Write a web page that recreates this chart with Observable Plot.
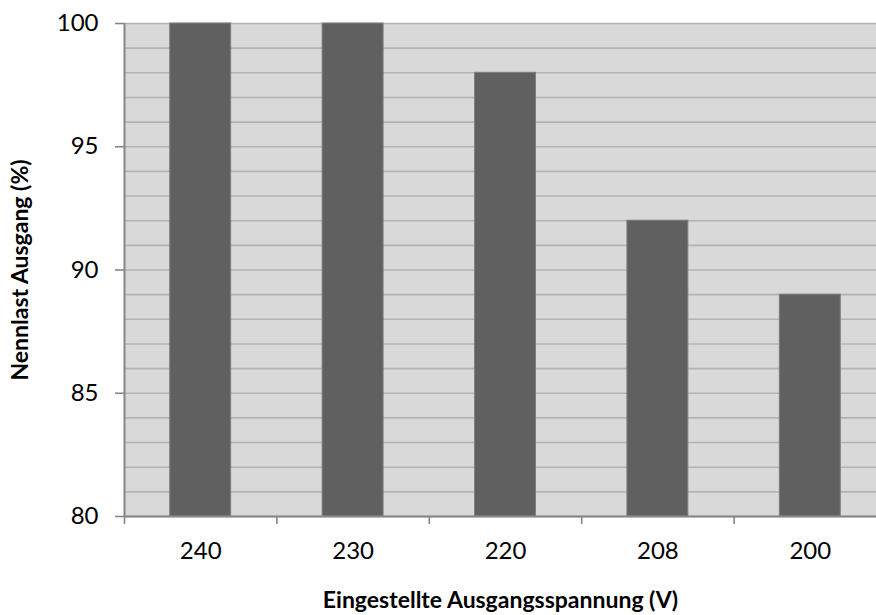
<!DOCTYPE html>
<html>
<head>
<meta charset="utf-8">
<script src="https://cdn.jsdelivr.net/npm/d3@7"></script>
<script src="https://cdn.jsdelivr.net/npm/@observablehq/plot@0.6"></script>
<style>
  html, body { margin: 0; padding: 0; background: #ffffff; overflow: hidden; }
  svg { display: block; }
</style>
</head>
<body>
<div id="chart"></div>
<script>
const categories = ["240", "230", "220", "208", "200"];
const values = [100, 100, 98, 92, 89];
const yTicks = [80, 85, 90, 95, 100];
const yGrid = d3.range(80, 101, 1);
const xTitle = "Eingestellte Ausgangsspannung (V)";
const yTitle = "Nennlast Ausgang (%)";

const data = categories.map((c, i) => ({cat: c, i, value: values[i]}));
const boundaries = d3.range(0, categories.length);
const centers = categories.map((c, i) => i + 0.5);

const chart = Plot.plot({
  width: 876,
  height: 615,
  marginLeft: 124,
  marginRight: -10,
  marginTop: 23,
  marginBottom: 99,
  style: {fontFamily: "Lato, 'Open Sans', sans-serif", background: "#ffffff", color: "#000", overflow: "hidden"},
  x: {type: "linear", domain: [0, categories.length]},
  y: {domain: [80, 100]},
  marks: [
    Plot.frame({fill: "#d9d9d9", stroke: null}),
    Plot.gridY(yGrid, {stroke: "#b3b3b3", strokeOpacity: 1, strokeWidth: 1.6}),
    Plot.rectY(data, {
      x1: d => d.i + 0.3,
      x2: d => d.i + 0.7,
      y1: 80,
      y2: "value",
      fill: "#606060",
      stroke: "#7f7f7f",
      strokeWidth: 1
    }),
    Plot.axisY(yTicks, {
      tickSize: 9,
      tickPadding: 17,
      fontSize: 24,
      stroke: "#868686",
      strokeWidth: 1.6,
      label: null
    }),
    Plot.ruleX([0], {stroke: "#868686", strokeWidth: 2}),
    Plot.ruleY([80], {stroke: "#868686", strokeWidth: 2}),
    Plot.axisX(boundaries, {
      tickSize: 8,
      tickFormat: () => "",
      stroke: "#868686",
      strokeWidth: 1.6,
      label: null
    }),
    Plot.axisX(centers, {
      tickSize: 0,
      tickPadding: 25,
      fontSize: 24,
      tickFormat: d => categories[Math.round(d - 0.5)],
      label: null
    }),
    Plot.text([xTitle], {
      frameAnchor: "bottom",
      lineAnchor: "middle",
      dx: -5,
      dy: 84,
      fontSize: 23,
      fontWeight: "bold",
      fill: "#000"
    }),
    Plot.text([yTitle], {
      frameAnchor: "left",
      textAnchor: "middle",
      lineAnchor: "middle",
      dx: -104,
      rotate: -90,
      fontSize: 23,
      fontWeight: "bold",
      fill: "#000"
    })
  ]
});
document.getElementById("chart").appendChild(chart);
</script>
</body>
</html>
